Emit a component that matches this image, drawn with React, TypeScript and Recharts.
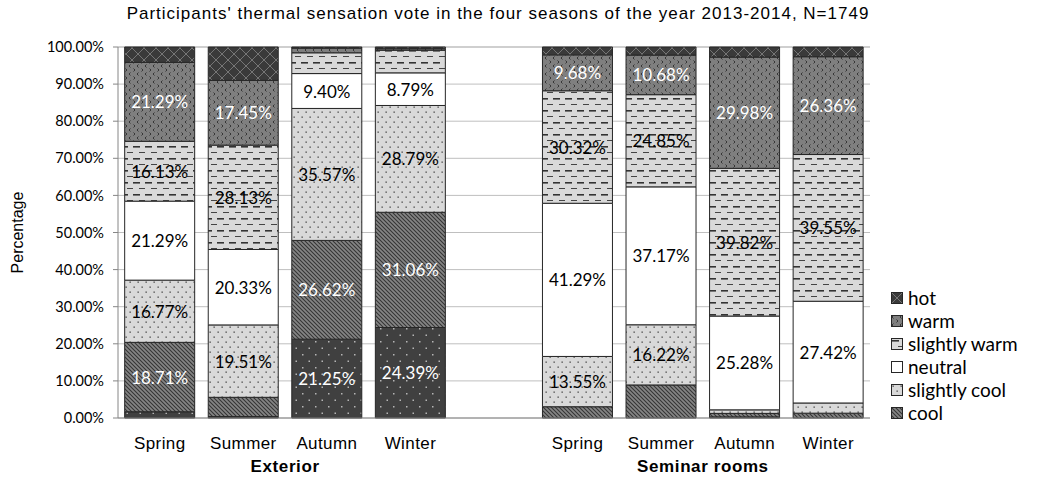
import React from 'react';
import { BarChart, Bar, XAxis, YAxis, CartesianGrid, LabelList, Label } from 'recharts';

// categories (a blank slot separates the two groups)
const seasons = ['Spring', 'Summer', 'Autumn', 'Winter', '', 'Spring', 'Summer', 'Autumn', 'Winter'];
const groups = ['Exterior', 'Exterior', 'Exterior', 'Exterior', '', 'Seminar rooms', 'Seminar rooms', 'Seminar rooms', 'Seminar rooms'];

// percentage of votes, bottom of the stack first
const cold = [1.68, 0.38, 21.25, 24.39, null, 0, 0, 0.3, 0];
const cool = [18.71, 5.2, 26.62, 31.06, null, 3.04, 8.91, 0.95, 1.3];
const slightlyCool = [16.77, 19.51, 35.57, 28.79, null, 13.55, 16.22, 0.95, 2.75];
const neutral = [21.29, 20.33, 9.4, 8.79, null, 41.29, 37.17, 25.28, 27.42];
const slightlyWarm = [16.13, 28.13, 5.6, 6.1, null, 30.32, 24.85, 39.82, 39.55];
const warm = [21.29, 17.45, 1.26, 0.4, null, 9.68, 10.68, 29.98, 26.36];
const hot = [4.13, 9.0, 0.3, 0.47, null, 2.12, 2.17, 2.72, 2.62];

const yTicks = [0, 10, 20, 30, 40, 50, 60, 70, 80, 90, 100];

const data = seasons.map((s, i) => ({
  key: 'c' + i,
  season: s,
  group: groups[i],
  cold: cold[i],
  cool: cool[i],
  slightlyCool: slightlyCool[i],
  neutral: neutral[i],
  slightlyWarm: slightlyWarm[i],
  warm: warm[i],
  hot: hot[i],
}));

const series = [
  { key: 'cold', name: 'cold', fill: 'url(#pCold)', text: '#fff', min: 8, legend: false },
  { key: 'cool', name: 'cool', fill: 'url(#pCool)', text: '#fff', min: 10, legend: true },
  { key: 'slightlyCool', name: 'slightly cool', fill: 'url(#pSCool)', text: '#000', min: 8, legend: true },
  { key: 'neutral', name: 'neutral', fill: '#ffffff', text: '#000', min: 8, legend: true },
  { key: 'slightlyWarm', name: 'slightly warm', fill: 'url(#pSWarm)', text: '#000', min: 8, legend: true },
  { key: 'warm', name: 'warm', fill: 'url(#pWarm)', text: '#fff', min: 8, legend: true },
  { key: 'hot', name: 'hot', fill: 'url(#pHot)', text: '#fff', min: 101, legend: true },
];

const W = 1044;
const H = 482;
const M = { top: 47, right: 174, bottom: 0, left: 0 };
const Y_W = 118;
const X_H = 64;
const PLOT_W = W - M.right - Y_W;
const BAND = PLOT_W / data.length;

const calibri = 'Lato, "Noto Sans", sans-serif';
const arial = '"Liberation Sans", Arial, sans-serif';

const makeLabel = (color: string, min: number) => (props: any) => {
  const { x, y, width, height, value } = props;
  if (value == null || value < min) return null;
  return (
    <text
      x={x + width / 2}
      y={y + height / 2}
      textAnchor="middle"
      dominantBaseline="central"
      fill={color}
      fontFamily={calibri}
      fontSize={17}
    >
      {Number(value).toFixed(2)}%
    </text>
  );
};

const XTick = (props: any) => {
  const { x, y, payload } = props;
  const row = data.find((d) => d.key === payload.value);
  if (!row) return null;
  return (
    <g>
      <text x={x} y={y + 31} textAnchor="middle" fontFamily={arial} fontSize={17} letterSpacing={0.4} fill="#000">
        {row.season}
      </text>
      {row.season === 'Summer' && (
        <text
          x={x + BAND / 2}
          y={y + 54}
          textAnchor="middle"
          fontFamily={arial}
          fontSize={17}
          letterSpacing={0.6}
          fontWeight="bold"
          fill="#000"
        >
          {row.group}
        </text>
      )}
    </g>
  );
};

const LegendBox = () => {
  const items = series.filter((s) => s.legend).reverse();
  return (
    <div style={{ fontFamily: calibri, fontSize: 19, color: '#000' }}>
      {items.map((s) => (
        <div key={s.key} style={{ display: 'flex', alignItems: 'center', height: 23 }}>
          <svg width={12} height={12} style={{ marginRight: 5 }}>
            <rect x={0.5} y={0.5} width={11} height={11} fill={s.fill} stroke="#262626" strokeWidth={1} />
          </svg>
          <span>{s.name}</span>
        </div>
      ))}
    </div>
  );
};

export default function App() {
  return (
    <div style={{ position: 'absolute', left: 0, top: 0, width: W, height: H, background: '#fff' }}>
      <div
        style={{
          position: 'absolute',
          left: 0,
          width: 996,
          top: 4,
          textAlign: 'center',
          fontFamily: arial,
          fontSize: 17,
          letterSpacing: 1,
          color: '#000',
        }}
      >
        Participants' thermal sensation vote in the four seasons of the year 2013-2014, N=1749
      </div>
      <BarChart width={W} height={H} data={data} margin={M} barCategoryGap="8%">
        <defs>
          <pattern id="pHot" width="12" height="12" patternUnits="userSpaceOnUse">
            <rect width="12" height="12" fill="#3a3a3a" />
            <path d="M0,0 L12,12 M12,0 L0,12" stroke="#767676" strokeWidth="1" />
          </pattern>
          <pattern id="pWarm" width="8" height="8" patternUnits="userSpaceOnUse">
            <rect width="8" height="8" fill="#7f7f7f" />
            <path d="M2.5,0.5 L1,2 L2.5,3.5 M5.5,4.5 L7,6 L5.5,7.5" stroke="#2e2e2e" strokeWidth="0.9" fill="none" />
          </pattern>
          <pattern id="pSWarm" width="12" height="12" patternUnits="userSpaceOnUse">
            <rect width="12" height="12" fill="#d9d9d9" />
            <rect x="1" y="2" width="7" height="1.6" fill="#333" />
            <rect x="7" y="8" width="6" height="1" fill="#444" />
            <rect x="0" y="8" width="1" height="1" fill="#444" />
          </pattern>
          <pattern id="pSCool" width="8" height="10" patternUnits="userSpaceOnUse">
            <rect width="8" height="10" fill="#d9d9d9" />
            <rect x="1.5" y="1.5" width="1.3" height="1.3" fill="#404040" />
            <rect x="5.5" y="6.5" width="1.3" height="1.3" fill="#404040" />
          </pattern>
          <pattern id="pCool" width="4" height="4" patternUnits="userSpaceOnUse">
            <rect width="4" height="4" fill="#858585" />
            <path d="M0,0 L4,4 M-1,3 L1,5 M3,-1 L5,1" stroke="#353535" strokeWidth="1.1" />
          </pattern>
          <pattern id="pCold" width="13" height="13" patternUnits="userSpaceOnUse">
            <rect width="13" height="13" fill="#404040" />
            <rect x="3" y="3" width="1.5" height="1.5" fill="#b5b5b5" />
            <rect x="9.5" y="9.5" width="1.5" height="1.5" fill="#b5b5b5" />
          </pattern>
        </defs>
        <CartesianGrid vertical={false} stroke="#bfbfbf" yAxisId="left" />
        <XAxis
          dataKey="key"
          height={X_H}
          axisLine={{ stroke: '#868686' }}
          tickLine={false}
          tickSize={0}
          tickMargin={0}
          tick={<XTick />}
          interval={0}
        />
        <YAxis
          yAxisId="left"
          width={Y_W}
          domain={[0, 100]}
          ticks={yTicks}
          tickFormatter={(v: number) => v.toFixed(2) + '%'}
          axisLine={{ stroke: '#868686' }}
          tickLine={{ stroke: '#868686' }}
          tickSize={5}
          tickMargin={9}
          tick={{ fontFamily: calibri, fontSize: 14.5, fill: '#000' }}
          interval={0}
        >
          <Label
            value="Percentage"
            angle={-90}
            position="insideLeft"
            offset={17}
            style={{ fontFamily: arial, fontSize: 16, fill: '#000', textAnchor: 'middle' }}
          />
        </YAxis>
        <YAxis
          yAxisId="right"
          orientation="right"
          width={0}
          domain={[0, 100]}
          tick={false}
          tickLine={false}
          axisLine={{ stroke: '#868686' }}
        />
        {series.map((s) => (
          <Bar
            key={s.key}
            dataKey={s.key}
            name={s.name}
            stackId="a"
            yAxisId="left"
            fill={s.fill}
            stroke="#262626"
            strokeWidth={1}
            isAnimationActive={false}
          >
            <LabelList dataKey={s.key} content={makeLabel(s.text, s.min)} />
          </Bar>
        ))}
      </BarChart>
      <div style={{ position: 'absolute', left: 891, top: 286, width: 153 }}>
        <LegendBox />
      </div>
    </div>
  );
}
